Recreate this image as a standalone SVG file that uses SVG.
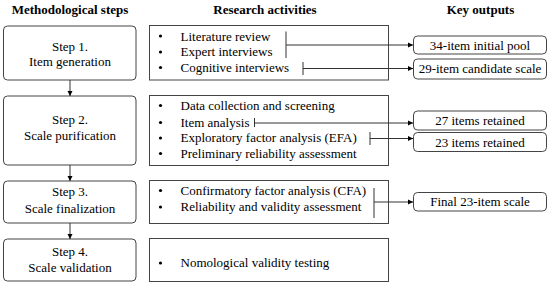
<svg xmlns="http://www.w3.org/2000/svg" width="550" height="285" viewBox="0 0 550 285">
<style>
text{font-family:"Liberation Serif","Times New Roman",serif;font-size:13px;fill:#000}
.h{font-weight:bold;text-anchor:middle}
.c{text-anchor:middle}
.step{fill:#fff;stroke:#444;stroke-width:1}
.act{fill:#fff;stroke:#444;stroke-width:1}
.out{fill:#fff;stroke:#444;stroke-width:1}
.ln{fill:none;stroke:#333;stroke-width:1}
.b{fill:#000}
</style>
<defs>
<marker id="ar" markerWidth="6" markerHeight="6" refX="5" refY="3" orient="auto" markerUnits="userSpaceOnUse">
<path d="M0,0.5 L5,3 L0,5.5 Z" fill="#000"/>
</marker>
</defs>
<rect width="550" height="285" fill="#fff"/>
<g id="headers">
<text class="h" x="70" y="14">Methodological steps</text>
<text class="h" x="265" y="14">Research activities</text>
<text class="h" x="480.5" y="14">Key outputs</text>
</g>
<g id="step1"><rect class="step" x="3.5" y="26" width="132.5" height="54" rx="4"/>
<text class="c" x="70" y="50.5">Step 1.</text><text class="c" x="70" y="65.5">Item generation</text></g>
<g id="step2"><rect class="step" x="3.5" y="96" width="132.5" height="69" rx="4"/>
<text class="c" x="70" y="124">Step 2.</text><text class="c" x="70" y="140">Scale purification</text></g>
<g id="step3"><rect class="step" x="3.5" y="181" width="132.5" height="42" rx="4"/>
<text class="c" x="70" y="196">Step 3.</text><text class="c" x="70" y="212.5">Scale finalization</text></g>
<g id="step4"><rect class="step" x="3.5" y="239" width="132.5" height="42" rx="4"/>
<text class="c" x="70" y="256">Step 4.</text><text class="c" x="70" y="272">Scale validation</text></g>
<g id="act1"><rect class="act" x="149.5" y="25.5" width="239" height="54.5"/>
<circle class="b" cx="160.5" cy="36" r="1.6"/><text x="180.5" y="40.5">Literature review</text>
<circle class="b" cx="160.5" cy="52" r="1.6"/><text x="180.5" y="56">Expert interviews</text>
<circle class="b" cx="160.5" cy="67.5" r="1.6"/><text x="180.5" y="71.5">Cognitive interviews</text></g>
<g id="act2"><rect class="act" x="149.5" y="95.5" width="239" height="70"/>
<circle class="b" cx="160.5" cy="105.5" r="1.6"/><text x="180.5" y="109.5">Data collection and screening</text>
<circle class="b" cx="160.5" cy="122.5" r="1.6"/><text x="180.5" y="126.5">Item analysis</text>
<circle class="b" cx="160.5" cy="138" r="1.6"/><text x="180.5" y="142">Exploratory factor analysis (EFA)</text>
<circle class="b" cx="160.5" cy="153.5" r="1.6"/><text x="180.5" y="157.5">Preliminary reliability assessment</text></g>
<g id="act3"><rect class="act" x="149.5" y="180.5" width="239" height="43"/>
<circle class="b" cx="160.5" cy="190.5" r="1.6"/><text x="180.5" y="194.5">Confirmatory factor analysis (CFA)</text>
<circle class="b" cx="160.5" cy="207" r="1.6"/><text x="180.5" y="211">Reliability and validity assessment</text></g>
<g id="act4"><rect class="act" x="149.5" y="238.5" width="239" height="43"/>
<circle class="b" cx="160.5" cy="263" r="1.6"/><text x="180.5" y="267">Nomological validity testing</text></g>
<g id="out1"><rect class="out" x="413.5" y="36" width="133" height="18" rx="4"/><text class="c" x="480" y="49.5">34-item initial pool</text></g>
<g id="out2"><rect class="out" x="413.5" y="59" width="133" height="20" rx="4"/><text class="c" x="480" y="73">29-item candidate scale</text></g>
<g id="out3"><rect class="out" x="413.5" y="111" width="133" height="19" rx="4"/><text class="c" x="480" y="125">27 items retained</text></g>
<g id="out4"><rect class="out" x="413.5" y="132.5" width="133" height="19" rx="4"/><text class="c" x="480" y="146.5">23 items retained</text></g>
<g id="out5"><rect class="out" x="413.5" y="192.5" width="133" height="18.5" rx="4"/><text class="c" x="480" y="205.5">Final 23-item scale</text></g>
<g id="connectors">
<line class="ln" x1="70" y1="80" x2="70" y2="96" marker-end="url(#ar)"/>
<line class="ln" x1="70" y1="165" x2="70" y2="181" marker-end="url(#ar)"/>
<line class="ln" x1="70" y1="223" x2="70" y2="239" marker-end="url(#ar)"/>
<line class="ln" x1="286" y1="31.5" x2="286" y2="58"/>
<line class="ln" x1="286" y1="45" x2="413" y2="45" marker-end="url(#ar)"/>
<line class="ln" x1="303" y1="62" x2="303" y2="75"/>
<line class="ln" x1="303" y1="68.5" x2="413" y2="68.5" marker-end="url(#ar)"/>
<line class="ln" x1="254.5" y1="118" x2="254.5" y2="127"/>
<line class="ln" x1="254.5" y1="123" x2="413" y2="123" marker-end="url(#ar)"/>
<line class="ln" x1="370" y1="132" x2="370" y2="145"/>
<line class="ln" x1="370" y1="138.5" x2="413" y2="138.5" marker-end="url(#ar)"/>
<line class="ln" x1="374" y1="188" x2="374" y2="218"/>
<line class="ln" x1="374" y1="202" x2="413" y2="202" marker-end="url(#ar)"/>
</g>
</svg>
